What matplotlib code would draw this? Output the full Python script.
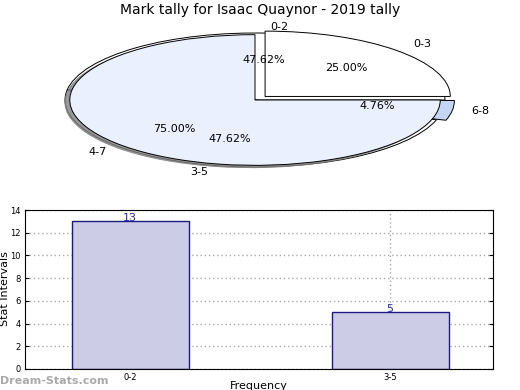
import matplotlib
matplotlib.use("Agg")
import matplotlib.pyplot as plt
import matplotlib.patches as mpatches

title = "Mark tally for Isaac Quaynor - 2019 tally"
pieA_labels = ["0-2", "3-5", "6-8"]
pieA_values = [10, 10, 1]
pieB_labels = ["0-3", "4-7"]
pieB_values = [1, 3]
bar_labels = ["0-2", "3-5"]
bar_values = [13, 5]

fig = plt.figure(figsize=(5.2, 3.9), dpi=100)

# Pie section (elliptical)
ax1 = fig.add_axes([65/520, 1-167/390, 380/520, 134/390])
wa, ta, pa = ax1.pie(pieA_values, labels=pieA_labels, startangle=0, counterclock=True,
                     explode=[0, 0, 0.05], colors=["white", "white", "#c5d6f5"],
                     autopct="%.2f%%", pctdistance=0.6, labeldistance=1.1,
                     wedgeprops=dict(edgecolor="black", linewidth=0.7, zorder=0.5),
                     textprops=dict(fontsize=8))
wb, tb, pb = ax1.pie(pieB_values, labels=pieB_labels, startangle=90, counterclock=False,
                     explode=[0.075, 0.0], radius=0.975,
                     colors=["white", "#eaf0fd"], autopct="%.2f%%", pctdistance=0.62,
                     labeldistance=1.13,
                     wedgeprops=dict(edgecolor="black", linewidth=0.7),
                     textprops=dict(fontsize=8))
shad = mpatches.Shadow(wb[1], -0.018, -0.025, color="#808080", alpha=0.8)
shad.set_zorder(0.9)
ax1.add_patch(shad)
ax1.set_aspect("auto")
ax1.set_xlim(-1, 1)
ax1.set_ylim(-1, 1)
ax1.axis("off")
fig.text(0.5, 1-10/390, title, ha="center", va="center", fontsize=10)

# Bar section
ax2 = fig.add_axes([25/520, 1-369/390, 468/520, 159/390])
x = list(range(len(bar_labels)))
bars = ax2.bar(x, bar_values, width=0.45, color="#ccccE6", edgecolor="#1a1a80", linewidth=1, zorder=2)
for xi, v in zip(x, bar_values):
    ax2.text(xi, v - 0.15, str(v), ha="center", va="bottom", color="#2a2aa8", fontsize=8, zorder=3)
ax2.set_xlim(-0.404, 1.396)
ax2.set_ylim(0, 14)
ax2.set_yticks(range(0, 15, 2))
ax2.set_xticks(x)
ax2.set_xticklabels(bar_labels)
ax2.tick_params(axis="both", labelsize=6, length=3, direction="in", right=True, top=False, pad=3)
ax2.grid(True, linestyle=(0, (1, 2)), color="#aaaaaa", linewidth=1, zorder=0)
ax2.set_axisbelow(True)
for s in ax2.spines.values():
    s.set_linewidth(0.8)

fig.text(5/520, 1-289/390, "Stat Intervals", rotation=90, ha="center", va="center", fontsize=8)
fig.text(259/520, 1-386/390, "Frequency", ha="center", va="center", fontsize=8)
fig.text(0.0, 1-381/390, "Dream-Stats.com", ha="left", va="center", fontsize=8,
         fontweight="bold", color="#aaaaaa")

fig.savefig("out.png", dpi=100)
